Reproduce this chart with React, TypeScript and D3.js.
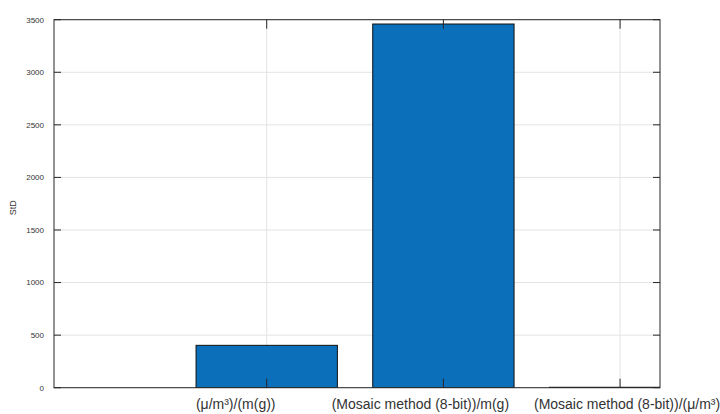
import React from "react";
import * as d3 from "d3";

// Bar categories (first slot is an unlabeled, empty position)
const categories: string[] = ["", "(μ/m³)/(m(g))", "(Mosaic method (8-bit))/m(g)", "(Mosaic method (8-bit))/(μ/m³)"];
const values: number[] = [0, 403, 3459, 4];
const yTicks: number[] = [0, 500, 1000, 1500, 2000, 2500, 3000, 3500];
const yLabel = "StD";

const W = 720;
const H = 414;
const margin = { left: 54, right: 60, top: 19.7, bottom: 26.3 };
// horizontal shift of each tick label relative to its tick
const labelShift: number[] = [0, -31, -23, 7];

export default function App() {
  const x = d3.scaleLinear().domain([0.796, 4.226]).range([margin.left, W - margin.right]);
  const y = d3.scaleLinear().domain([0, 3500]).range([H - margin.bottom, margin.top]);
  const barW = (x(2) - x(1)) * 0.8;
  const x0 = margin.left, x1 = W - margin.right, y0 = H - margin.bottom, y1 = margin.top;
  const axisColor = "#262626";
  const font = "'Liberation Sans', Arial, Helvetica, sans-serif";

  return (
    <svg width={W} height={H} style={{ position: "absolute", left: 0, top: 0, background: "#fff" }}>
      <defs>
        <clipPath id="plot">
          <rect x={x0} y={y1} width={x1 - x0} height={y0 - y1} />
        </clipPath>
      </defs>
      {/* grid */}
      {yTicks.map((t) => (
        <line key={"gy" + t} x1={x0} x2={x1} y1={y(t)} y2={y(t)} stroke="#e3e3e3" strokeWidth={1} />
      ))}
      {categories.map((c, i) =>
        c ? (
          <line key={"gx" + i} x1={x(i + 1)} x2={x(i + 1)} y1={y1} y2={y0} stroke="#e3e3e3" strokeWidth={1} />
        ) : null
      )}
      {/* bars */}
      <g clipPath="url(#plot)">
        {values.map((v, i) => (
          <rect
            key={"b" + i}
            x={x(i + 1) - barW / 2}
            y={y(v)}
            width={barW}
            height={y(0) - y(v)}
            fill="#0c6fb9"
            stroke="#111"
            strokeWidth={1}
          />
        ))}
      </g>
      {/* axes box */}
      <rect x={x0} y={y1} width={x1 - x0} height={y0 - y1} fill="none" stroke={axisColor} strokeWidth={1} />
      {/* y ticks */}
      {yTicks.map((t) => (
        <g key={"ty" + t}>
          <line x1={x0} x2={x0 + 7} y1={y(t)} y2={y(t)} stroke={axisColor} />
          <line x1={x1} x2={x1 - 7} y1={y(t)} y2={y(t)} stroke={axisColor} />
          <text x={x0 - 10} y={y(t)} dy="0.35em" textAnchor="end" fontSize={8} fill="#333" fontFamily={font}>
            {t}
          </text>
        </g>
      ))}
      {/* x ticks */}
      {categories.map((c, i) =>
        c ? (
          <g key={"tx" + i}>
            <line x1={x(i + 1)} x2={x(i + 1)} y1={y0} y2={y0 - 9} stroke={axisColor} />
            <line x1={x(i + 1)} x2={x(i + 1)} y1={y1} y2={y1 + 9} stroke={axisColor} />
            <text
              x={x(i + 1) + labelShift[i]}
              y={y0 + 21}
              textAnchor="middle"
              fontSize={14}
              fill="#333"
              fontFamily={font}
            >
              {c}
            </text>
          </g>
        ) : null
      )}
      {/* y label */}
      <text
        transform={`translate(16,${(y0 + y1) / 2 + 4}) rotate(-90)`}
        textAnchor="middle"
        fontSize={9}
        fill="#333"
        fontFamily={font}
      >
        {yLabel}
      </text>
    </svg>
  );
}
